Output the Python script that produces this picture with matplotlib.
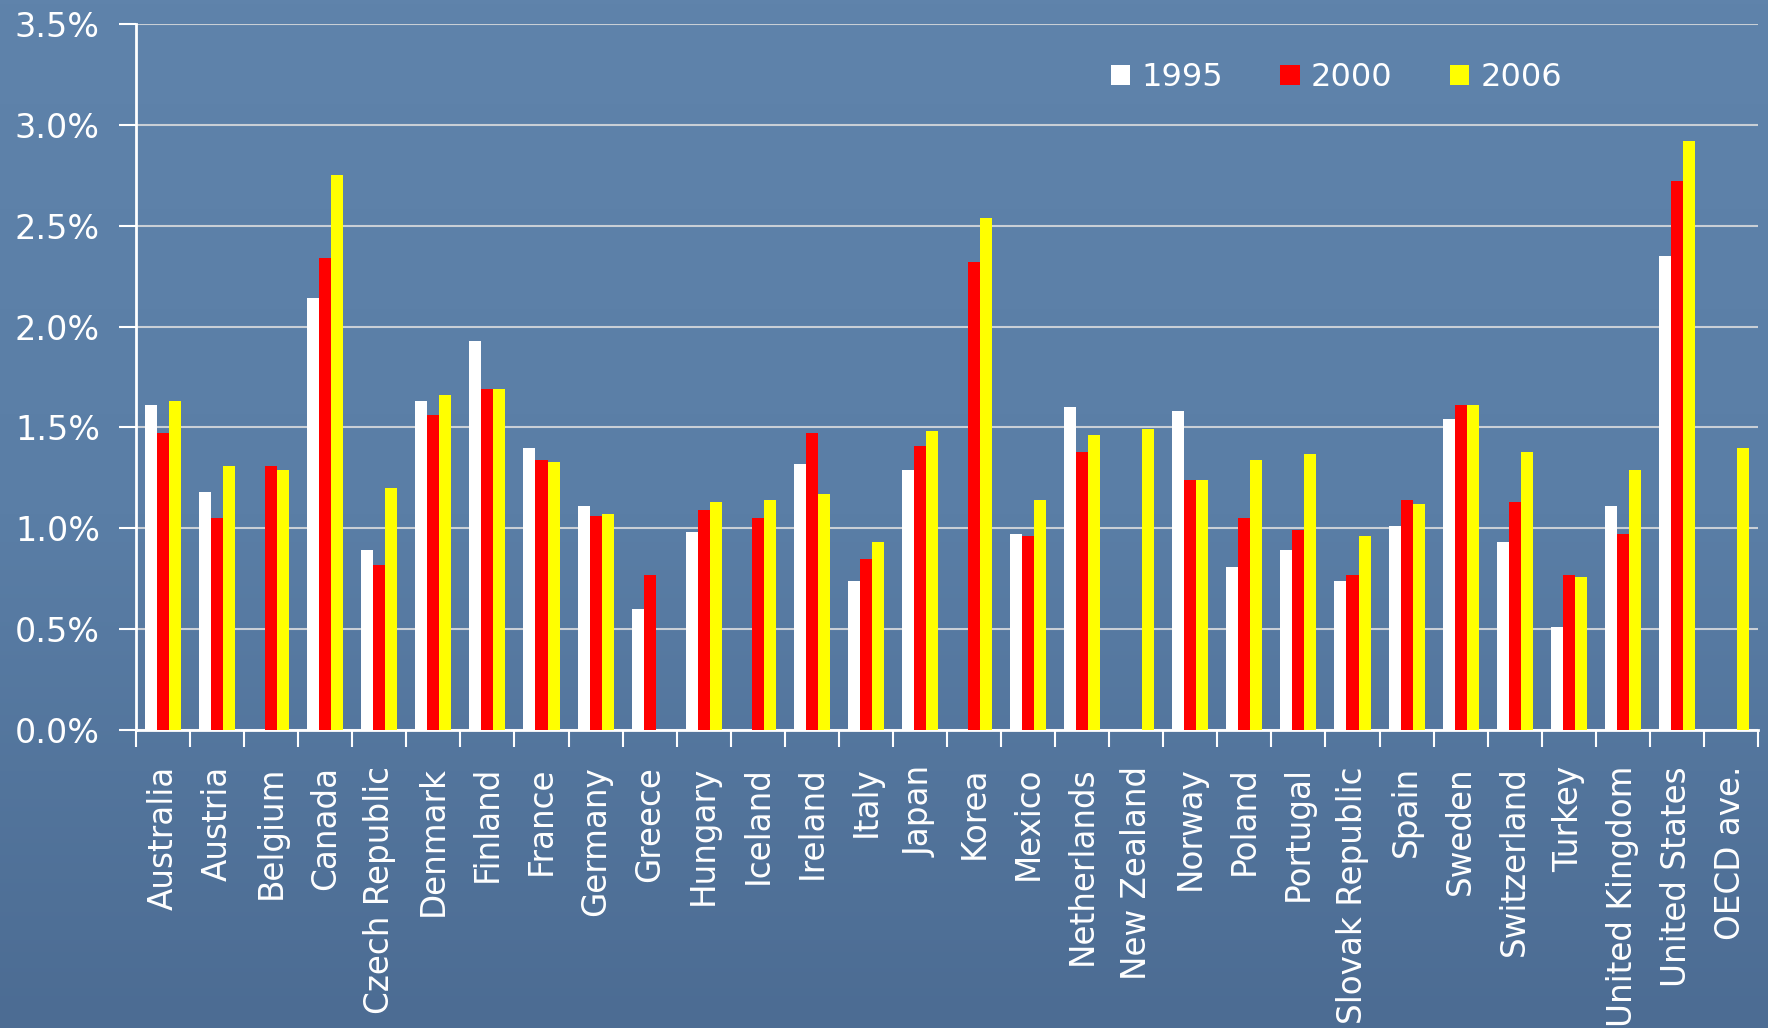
import numpy as np
import matplotlib
matplotlib.use("Agg")
import matplotlib.pyplot as plt
from matplotlib.ticker import FixedLocator, NullFormatter, FuncFormatter
from matplotlib.colors import LinearSegmentedColormap

nan = np.nan
countries = ["Australia", "Austria", "Belgium", "Canada", "Czech Republic", "Denmark",
             "Finland", "France", "Germany", "Greece", "Hungary", "Iceland", "Ireland",
             "Italy", "Japan", "Korea", "Mexico", "Netherlands", "New Zealand", "Norway",
             "Poland", "Portugal", "Slovak Republic", "Spain", "Sweden", "Switzerland",
             "Turkey", "United Kingdom", "United States", "OECD ave."]
y1995 = [1.61, 1.18, nan, 2.14, 0.89, 1.63, 1.93, 1.40, 1.11, 0.60, 0.98, nan, 1.32,
         0.74, 1.29, nan, 0.97, 1.60, nan, 1.58, 0.81, 0.89, 0.74, 1.01, 1.54, 0.93,
         0.51, 1.11, 2.35, nan]
y2000 = [1.47, 1.05, 1.31, 2.34, 0.82, 1.56, 1.69, 1.34, 1.06, 0.77, 1.09, 1.05, 1.47,
         0.85, 1.41, 2.32, 0.96, 1.38, nan, 1.24, 1.05, 0.99, 0.77, 1.14, 1.61, 1.13,
         0.77, 0.97, 2.72, nan]
y2006 = [1.63, 1.31, 1.29, 2.75, 1.20, 1.66, 1.69, 1.33, 1.07, nan, 1.13, 1.14, 1.17,
         0.93, 1.48, 2.54, 1.14, 1.46, 1.49, 1.24, 1.34, 1.37, 0.96, 1.12, 1.61, 1.38,
         0.76, 1.29, 2.92, 1.40]
years = ["1995", "2000", "2006"]
colors = ["white", "#ff0000", "#ffff00"]
yticks = [0.0, 0.5, 1.0, 1.5, 2.0, 2.5, 3.0, 3.5]

plt.rcParams['font.family'] = ['DejaVu Sans']

fig = plt.figure(figsize=(17.68, 10.28), dpi=100)

# background gradient
bg = fig.add_axes([0, 0, 1, 1], zorder=-10)
grad = np.linspace(0, 1, 256).reshape(-1, 1)
cmap = LinearSegmentedColormap.from_list("bg", ["#5f83ab", "#5a7ea6", "#4c6c93"])
bg.imshow(grad, aspect="auto", cmap=cmap, extent=[0, 1, 0, 1])
bg.axis("off")

ax = fig.add_axes([136 / 1768, 1 - 730 / 1028, (1758 - 136) / 1768, (730 - 24) / 1028])
ax.patch.set_alpha(0)

n = len(countries)
x = np.arange(n)
w = 0.222
for i, (vals, c, lab) in enumerate(zip([y1995, y2000, y2006], colors, years)):
    ax.bar(x + (i - 1) * w, vals, width=w, color=c, label=lab, zorder=3)

ax.set_xlim(-0.5, n - 0.5)
ax.set_ylim(0, 3.5)
ax.set_yticks(yticks)
ax.yaxis.set_major_formatter(FuncFormatter(lambda v, p: f"{v:.1f}%"))
ax.grid(axis="y", color="#c9cfd6", linewidth=1.5, zorder=0)
ax.tick_params(axis="y", colors="white", labelsize=24, length=12, width=1.5, pad=14,
               labelcolor="white")

ax.xaxis.set_major_locator(FixedLocator(np.arange(n + 1) - 0.5))
ax.xaxis.set_major_formatter(NullFormatter())
ax.xaxis.set_minor_locator(FixedLocator(x))
ax.set_xticklabels(countries, minor=True, rotation=90, fontsize=23.5, color="white")
ax.tick_params(axis="x", which="major", colors="white", length=12, width=1.5)
ax.tick_params(axis="x", which="minor", length=0, pad=26)

for s in ["top", "right"]:
    ax.spines[s].set_visible(False)
for s in ["left", "bottom"]:
    ax.spines[s].set_color("white")
    ax.spines[s].set_linewidth(2)

leg = ax.legend(loc="center left", bbox_to_anchor=(1111 / 1768, 1 - 78 / 1028),
                bbox_transform=fig.transFigure, ncol=3, frameon=False, fontsize=23,
                handlelength=0.6, handleheight=0.6, handletextpad=0.35,
                columnspacing=1.8, borderpad=0, borderaxespad=0)
for t in leg.get_texts():
    t.set_color("white")

fig.savefig("out.png", dpi=100)
